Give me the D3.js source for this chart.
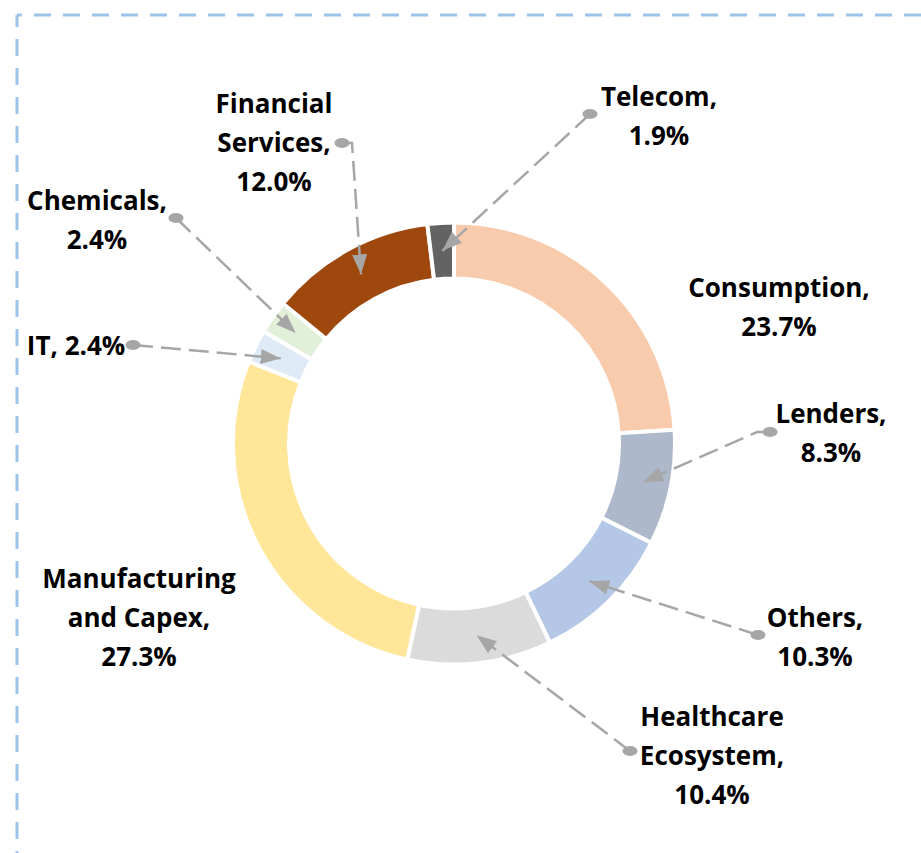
<!DOCTYPE html>
<html>
<head>
<meta charset="utf-8">
<script src="https://cdn.jsdelivr.net/npm/d3@7"></script>
<style>
  html, body { margin: 0; padding: 0; background: #fff; }
  svg { display: block; }
  .lbl { font-family: "Open Sans", Lato, sans-serif; font-weight: 700; font-size: 26px; fill: #000; }
</style>
</head>
<body>
<svg class="svg-donut" width="921" height="853"></svg>
<script>
// sectors, clockwise from 12 o'clock
const categories = ['Consumption', 'Lenders', 'Others', 'Healthcare Ecosystem',
  'Manufacturing and Capex', 'IT', 'Chemicals', 'Financial Services', 'Telecom'];
const shares = [23.7, 8.3, 10.3, 10.4, 27.3, 2.4, 2.4, 12.0, 1.9];
const colors = ['#F8CBAD', '#ADB9CA', '#B4C7E7', '#DBDBDB', '#FFE699',
  '#DEEBF7', '#E2F0D9', '#9E480E', '#636363'];
// how each label name wraps (value goes on its own line unless inline)
const nameLines = [['Consumption,'], ['Lenders,'], ['Others,'], ['Healthcare', 'Ecosystem,'],
  ['Manufacturing', 'and Capex,'], ['IT,'], ['Chemicals,'], ['Financial', 'Services,'], ['Telecom,']];
const inlineValue = [false, false, false, false, false, true, false, false, false];

// label placement (manual, like the original): centre x, first baseline y, dot, elbow
const labelLayout = {
  'Consumption':             { x: 779, y: 297 },
  'Lenders':                 { x: 831, y: 423, dot: [770, 432], elbow: [757, 432] },
  'Others':                  { x: 815, y: 627, dot: [758, 635] },
  'Healthcare Ecosystem':    { x: 712, y: 726, dot: [630, 751] },
  'Manufacturing and Capex': { x: 139, y: 588 },
  'IT':                      { x: 76,  y: 355, dot: [133, 345] },
  'Chemicals':               { x: 97,  y: 210, dot: [176, 218] },
  'Financial Services':      { x: 274, y: 113, dot: [342, 143], elbow: [352, 143] },
  'Telecom':                 { x: 659, y: 106, dot: [590, 114] }
};

const width = 921, height = 853;
const cx = 454, cy = 443.5;
const outerR = 221, innerR = 165;
const lineH = 39;
const fmt = d3.format('.1f');

const svg = d3.select('.svg-donut');

// dashed frame (top and left edges visible)
const frame = svg.append('g')
  .attr('fill', 'none')
  .attr('stroke', '#9DC3E6')
  .attr('stroke-width', 3)
  .attr('stroke-dasharray', '17 12');
frame.append('line').attr('x1', 17).attr('y1', 15).attr('x2', width + 10).attr('y2', 15)
  .attr('stroke-dashoffset', 12);
frame.append('line').attr('x1', 17).attr('y1', 15).attr('x2', 17).attr('y2', height + 10)
  .attr('stroke-dashoffset', 5);

const data = categories.map((c, i) => ({ name: c, value: shares[i], color: colors[i], idx: i }));

const pie = d3.pie().sort(null).value(d => d.value);
const arc = d3.arc().innerRadius(innerR).outerRadius(outerR);
const midArc = d3.arc().innerRadius((innerR + outerR) / 2).outerRadius((innerR + outerR) / 2);

const g = svg.append('g').attr('transform', 'translate(' + cx + ',' + cy + ')');

const arcs = pie(data);

g.selectAll('path.slice')
  .data(arcs)
  .enter()
  .append('path')
  .attr('class', 'slice')
  .attr('d', arc)
  .attr('fill', d => d.data.color)
  .attr('stroke', '#fff')
  .attr('stroke-width', 4)
  .attr('stroke-linejoin', 'miter');

// arrow marker for leader lines
svg.append('defs')
  .append('marker')
  .attr('id', 'arrow')
  .attr('markerUnits', 'userSpaceOnUse')
  .attr('viewBox', '0 -8 20 16')
  .attr('refX', 20)
  .attr('refY', 0)
  .attr('markerWidth', 20)
  .attr('markerHeight', 16)
  .attr('orient', 'auto')
  .append('path')
  .attr('d', 'M0,-7.5L20,0L0,7.5Z')
  .attr('fill', '#A6A6A6');

const leaders = svg.append('g').attr('class', 'leaders');

arcs.forEach(a => {
  const lay = labelLayout[a.data.name];
  if (!lay.dot) return;
  const c = midArc.centroid(a);
  const tip = [cx + c[0], cy + c[1]];
  const pts = [lay.dot];
  if (lay.elbow) pts.push(lay.elbow);
  pts.push(tip);
  leaders.append('path')
    .attr('d', d3.line()(pts))
    .attr('fill', 'none')
    .attr('stroke', '#A6A6A6')
    .attr('stroke-width', 2.5)
    .attr('stroke-dasharray', '20 8')
    .attr('marker-end', 'url(#arrow)');
  leaders.append('ellipse')
    .attr('cx', lay.dot[0])
    .attr('cy', lay.dot[1])
    .attr('rx', 7.5)
    .attr('ry', 5)
    .attr('fill', '#A6A6A6');
});

// labels
const labels = svg.append('g').attr('class', 'labels');
arcs.forEach(a => {
  const i = a.data.idx;
  const lay = labelLayout[a.data.name];
  let lines = nameLines[i].slice();
  const val = fmt(a.data.value) + '%';
  if (inlineValue[i]) lines[lines.length - 1] += ' ' + val;
  else lines.push(val);
  const t = labels.append('text')
    .attr('class', 'lbl')
    .attr('text-anchor', 'middle');
  lines.forEach((l, k) => {
    t.append('tspan')
      .attr('x', lay.x)
      .attr('y', lay.y + k * lineH)
      .text(l);
  });
});
</script>
</body>
</html>
